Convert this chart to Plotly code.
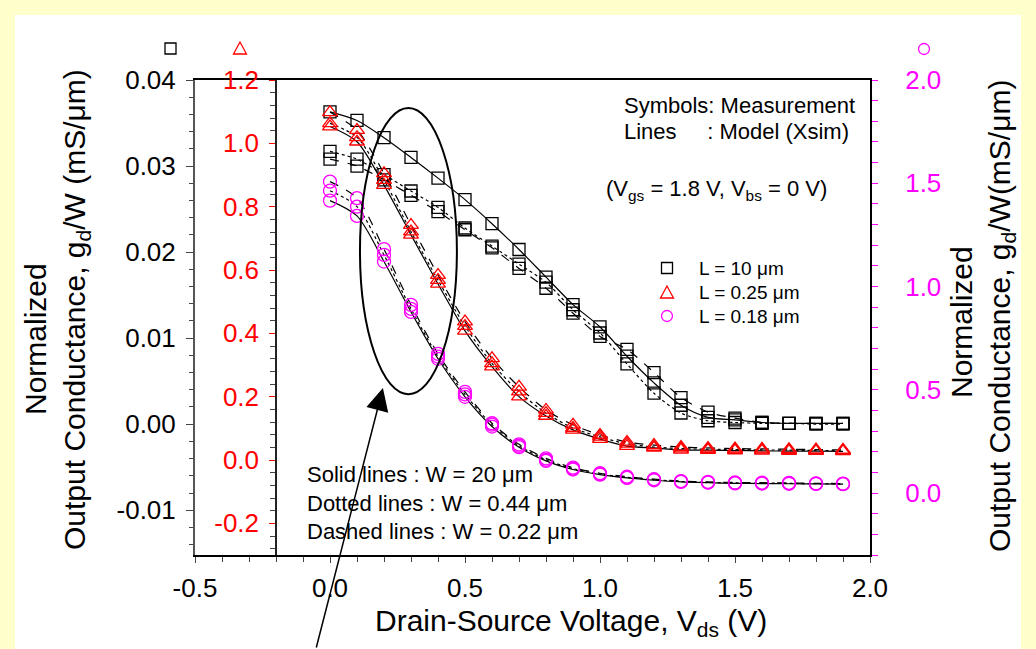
import plotly.graph_objects as go

# ---------------- data ----------------
vds = [0.0, 0.1, 0.2, 0.3, 0.4, 0.5, 0.6, 0.7, 0.8, 0.9,
       1.0, 1.1, 1.2, 1.3, 1.4, 1.5, 1.6, 1.7, 1.8, 1.9]

# L = 10 um  (left black axis, mS/um)
L10_W20 = [0.0363, 0.0353, 0.0333, 0.0310, 0.0286, 0.0261, 0.0233, 0.0203, 0.0171, 0.0139,
           0.0113, 0.0079, 0.0048, 0.0022, 0.0008, 0.0005, 0.0002, 0.0001, 0.0001, 0.0001]
L10_W044 = [0.0317, 0.0308, 0.0290, 0.0271, 0.0252, 0.0228, 0.0207, 0.0186, 0.0165, 0.0133,
            0.0106, 0.0070, 0.0036, 0.0013, 0.0004, 0.0002, 0.0001, 0.0001, 0.0000, 0.0000]
L10_W022 = [0.0308, 0.0300, 0.0284, 0.0266, 0.0247, 0.0226, 0.0205, 0.0181, 0.0158, 0.0129,
            0.0102, 0.0087, 0.0060, 0.0031, 0.0014, 0.0007, 0.0002, 0.0001, 0.0001, 0.0001]

# L = 0.25 um  (red axis)
L025_W20 = [1.053, 1.005, 0.868, 0.711, 0.556, 0.408, 0.295, 0.200, 0.139, 0.095,
            0.066, 0.044, 0.038, 0.032, 0.031, 0.030, 0.029, 0.028, 0.028, 0.027]
L025_W044 = [1.063, 1.019, 0.884, 0.721, 0.568, 0.423, 0.305, 0.216, 0.148, 0.101,
             0.073, 0.051, 0.041, 0.036, 0.034, 0.033, 0.032, 0.031, 0.030, 0.030]
L025_W022 = [1.098, 1.042, 0.905, 0.742, 0.584, 0.437, 0.321, 0.231, 0.158, 0.111,
             0.079, 0.057, 0.047, 0.041, 0.038, 0.036, 0.035, 0.034, 0.033, 0.032]

# L = 0.18 um  (magenta axis)
L018_W20 = [1.416, 1.342, 1.121, 0.877, 0.650, 0.466, 0.322, 0.222, 0.156, 0.114,
            0.089, 0.073, 0.062, 0.054, 0.050, 0.047, 0.046, 0.045, 0.044, 0.043]
L018_W044 = [1.464, 1.387, 1.153, 0.892, 0.661, 0.478, 0.331, 0.229, 0.161, 0.118,
             0.092, 0.076, 0.065, 0.056, 0.052, 0.049, 0.048, 0.047, 0.045, 0.044]
L018_W022 = [1.508, 1.428, 1.181, 0.911, 0.674, 0.490, 0.338, 0.236, 0.168, 0.123,
             0.096, 0.079, 0.067, 0.058, 0.054, 0.051, 0.050, 0.049, 0.047, 0.046]

series_names = ["L = 10 μm", "L = 0.25 μm", "L = 0.18 μm"]

x_tickvals = [-0.5, 0.0, 0.5, 1.0, 1.5, 2.0]
x_ticktext = ["-0.5", "0.0", "0.5", "1.0", "1.5", "2.0"]
y1_tickvals = [-0.01, 0.0, 0.01, 0.02, 0.03, 0.04]
y1_ticktext = ["-0.01", "0.00", "0.01", "0.02", "0.03", "0.04"]
y2_tickvals = [-0.2, 0.0, 0.2, 0.4, 0.6, 0.8, 1.0, 1.2]
y2_ticktext = ["-0.2", "0.0", "0.2", "0.4", "0.6", "0.8", "1.0", "1.2"]
y3_tickvals = [0.0, 0.5, 1.0, 1.5, 2.0]
y3_ticktext = ["0.0", "0.5", "1.0", "1.5", "2.0"]

# ---------------- layout geometry (pixels) ----------------
W, H = 1036, 649
ML, MR, MT, MB = 195, 166, 80, 94
PW, PH = W - ML - MR, H - MT - MB


def px(x):
    return (x - ML) / PW


def py(y):
    return (H - MB - y) / PH


FONT = "Liberation Sans, Arial, sans-serif"
BLACK, RED, MAG = "#000000", "#FF0000", "#FF00FF"

fig = go.Figure()

groups = [
    ("y", BLACK, "square-open", 12, series_names[0], [L10_W20, L10_W044, L10_W022]),
    ("y2", RED, "triangle-up-open", 13, series_names[1], [L025_W20, L025_W044, L025_W022]),
    ("y3", MAG, "circle-open", 13, series_names[2], [L018_W20, L018_W044, L018_W022]),
]
dashes = ["solid", "dot", "dash"]

# model lines
for yax, col, sym, size, name, series in groups:
    for s, d in zip(series, dashes):
        fig.add_trace(go.Scatter(
            x=vds, y=s, mode="lines", yaxis=yax, showlegend=False, hoverinfo="skip",
            line=dict(color="black", width=1.2, dash=d, shape="spline", smoothing=0.8)))

# measurement symbols
for yax, col, sym, size, name, series in groups:
    for i, s in enumerate(series):
        fig.add_trace(go.Scatter(
            x=vds, y=s, mode="markers", yaxis=yax, name=name, showlegend=False,
            marker=dict(symbol=sym, size=size, color=col, line=dict(width=1.3, color=col))))

axis_common = dict(showgrid=False, zeroline=False, showline=True, ticks="outside",
                   tickfont=dict(family=FONT, size=26))

fig.update_layout(
    width=W, height=H, autosize=False,
    margin=dict(l=ML, r=MR, t=MT, b=MB),
    paper_bgcolor="#FFFFCC", plot_bgcolor="white",
    font=dict(family=FONT, color="black"),
    showlegend=False,
    xaxis=dict(axis_common, range=[-0.5, 2.0], tickmode="array",
               tickvals=x_tickvals, ticktext=x_ticktext,
               linecolor="black", linewidth=2, mirror=True, ticklen=6,
               tickcolor="#444", ticklabelstandoff=3,
               minor=dict(dtick=0.1, tick0=0, ticks="outside", ticklen=5, tickcolor="#444")),
    yaxis=dict(axis_common, range=[-0.0152, 0.04], tickmode="array",
               tickvals=y1_tickvals, ticktext=y1_ticktext,
               linecolor="#555", linewidth=2, ticklen=7, tickcolor="#444",
               ticklabelstandoff=5,
               minor=dict(dtick=0.002, tick0=0, ticks="outside", ticklen=4, tickcolor="#444")),
    yaxis2=dict(axis_common, range=[-0.3, 1.2], overlaying="y", anchor="free",
                position=px(276), side="left", tickmode="array",
                tickvals=y2_tickvals, ticktext=y2_ticktext,
                tickfont=dict(family=FONT, size=26, color=RED),
                linecolor="#222", linewidth=1.5, ticklen=6, tickcolor=RED,
                ticklabelstandoff=5,
                minor=dict(dtick=0.04, tick0=0, ticks="outside", ticklen=5, tickcolor="#444")),
    yaxis3=dict(axis_common, range=[-0.3, 2.0], overlaying="y", anchor="x",
                side="right", tickmode="array",
                tickvals=y3_tickvals, ticktext=y3_ticktext,
                tickfont=dict(family=FONT, size=26, color=MAG),
                linecolor="black", linewidth=2, ticklen=6, tickcolor=MAG,
                ticklabelstandoff=22,
                minor=dict(dtick=0.1, tick0=0, ticks="outside", ticklen=6, tickcolor=MAG)),
)


def tri_path(cx, cy, half_w, h):
    return "M {} {} L {} {} L {} {} Z".format(
        px(cx), py(cy - h / 2), px(cx - half_w), py(cy + h / 2), px(cx + half_w), py(cy + h / 2))


shapes = [
    # white panel inside the yellow frame
    dict(type="rect", xref="paper", yref="paper", x0=px(15), x1=px(1021), y0=py(649), y1=py(15),
         fillcolor="white", line=dict(width=0), layer="below"),
    # axis symbol keys above the axes
    dict(type="rect", xref="paper", yref="paper", x0=px(165), x1=px(176), y0=py(54), y1=py(43),
         line=dict(color="black", width=1.3)),
    dict(type="path", xref="paper", yref="paper", path=tri_path(240, 48, 6.5, 12),
         line=dict(color=RED, width=1.3)),
    dict(type="circle", xref="paper", yref="paper", x0=px(918.5), x1=px(929.5), y0=py(54.5), y1=py(43.5),
         line=dict(color=MAG, width=1.3)),
    # legend symbols
    dict(type="rect", xref="paper", yref="paper", x0=px(661.5), x1=px(672.5), y0=py(273.5), y1=py(262.5),
         line=dict(color="black", width=1.3)),
    dict(type="path", xref="paper", yref="paper", path=tri_path(667, 292, 6.5, 12),
         line=dict(color=RED, width=1.3)),
    dict(type="circle", xref="paper", yref="paper", x0=px(661.5), x1=px(672.5), y0=py(321.5), y1=py(310.5),
         line=dict(color=MAG, width=1.3)),
    # highlight ellipse
    dict(type="circle", xref="x", yref="y", x0=0.111, x1=0.470, y0=0.00349, y1=0.03674,
         line=dict(color="black", width=2)),
]
fig.update_layout(shapes=shapes)

# legend texts
LF = dict(family=FONT, size=19, color="black")
for name, yy in zip(series_names, [268, 292, 316]):
    fig.add_annotation(xref="paper", yref="paper", x=px(697), y=py(yy), text=name,
                       showarrow=False, xanchor="left", yanchor="middle", font=LF)

TF = dict(family=FONT, size=22, color="black")
annots = [
    dict(x=px(622), y=py(105), text="Symbols: Measurement", xanchor="left", yanchor="middle"),
    dict(x=px(622), y=py(131), text="Lines\u00a0\u00a0\u00a0\u00a0\u00a0: Model (Xsim)",
         xanchor="left", yanchor="middle"),
    dict(x=px(604), y=py(190),
         text="(V<sub>gs</sub> = 1.8 V, V<sub>bs</sub> = 0 V)",
         xanchor="left", yanchor="middle"),
    dict(x=px(305), y=py(503),
         text="Solid lines : W = 20 μm<br>Dotted lines : W = 0.44 μm<br>Dashed lines : W = 0.22 μm",
         xanchor="left", yanchor="middle", align="left"),
]
for a in annots:
    fig.add_annotation(xref="paper", yref="paper", showarrow=False, font=TF, **a)

TTL = dict(family=FONT, size=30, color="black")
titles = [
    dict(x=px(571), y=py(622), text="Drain-Source Voltage, V<sub>ds</sub> (V)", textangle=0),
    dict(x=px(35), y=py(339), text="Normalized", textangle=-90),
    dict(x=px(76), y=py(310), text="Output Conductance, g<sub>d</sub>/W (mS/μm)", textangle=-90),
    dict(x=px(961), y=py(322), text="Normalized", textangle=-90),
    dict(x=px(1001), y=py(316), text="Output Conductance, g<sub>d</sub>/W(mS/μm)", textangle=-90),
]
for t in titles:
    fig.add_annotation(xref="paper", yref="paper", showarrow=False, font=TTL,
                       xanchor="center", yanchor="middle", **t)

# arrow pointing at the ellipse
fig.add_annotation(xref="x", yref="y", x=0.196, y=0.0042, ax=-67, ay=261, text="",
                   showarrow=True, arrowhead=2, arrowsize=3.0, arrowwidth=1.5, arrowcolor="black")

fig.write_html("out.html")
